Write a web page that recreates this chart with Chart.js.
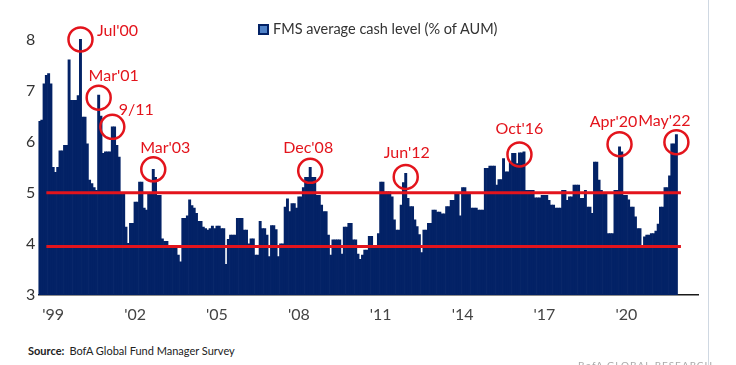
<!DOCTYPE html>
<html>
<head>
<meta charset="utf-8">
<script src="https://cdn.jsdelivr.net/npm/chart.js@4.4.1/dist/chart.umd.min.js"></script>
<style>
  html, body { margin: 0; padding: 0; background: #fff; }
  body { width: 736px; height: 365px; overflow: hidden; position: relative; font-family: Lato, "Open Sans", sans-serif; }
  #wrap { position: absolute; left: 0; top: 0; width: 736px; height: 330px; }
  .legend { position: absolute; left: 258px; top: 20px; font-size: 14.5px; color: #333; white-space: nowrap; line-height: 18px; }
  .legend .box { display: inline-block; width: 7px; height: 7px; border: 2px solid #032266; background: #4f82c8; margin-right: 4px; vertical-align: -1px; }
  .source { position: absolute; left: 28px; top: 344px; font-size: 11px; color: #222; white-space: nowrap; }
  .source b { margin-right: 5px; }
  .edge-right { position: absolute; left: 708px; top: 0; width: 1px; height: 365px; background: #cfd8e2; }
  .footer-mark { position: absolute; left: 578px; top: 359px; font-size: 10px; color: #aaa; letter-spacing: 1px; white-space: nowrap; }
</style>
</head>
<body>
<div id="wrap"><canvas id="cashChart"></canvas></div>
<div class="legend" id="legend"></div>
<div class="source"><b>Source:</b>BofA Global Fund Manager Survey</div>
<div class="edge-right"></div>
<div class="footer-mark">BofA GLOBAL RESEARCH</div>

<script>
// ------------------------------
// DATA (monthly, from Jan'99)
// ------------------------------
const seriesName = 'FMS average cash level (% of AUM)';
const startYear = 1999;
const monthNames = ['Jan','Feb','Mar','Apr','May','Jun','Jul','Aug','Sep','Oct','Nov','Dec'];

// one row per year
const cash1999to2006 = [
  6.4, 6.42, 7.13, 7.3, 7.33, 7.13, 5.5, 5.4, 5.5, 5.82, 5.82, 5.93,
  5.93, 7.6, 6.81, 6.81, 6.81, 6.9, 8.0, 6.48, 6.48, 5.96, 5.25, 5.18,
  5.1, 5.05, 6.91, 6.5, 5.77, 5.8, 5.8, 5.8, 6.29, 6.29, 5.93, 5.7,
  5.0, 4.99, 4.33, 4.01, 4.4, 4.4, 4.82, 4.82, 5.21, 5.21, 4.7, 4.66,
  5.0, 5.0, 5.46, 5.3, 4.95, 4.95, 4.1, 4.05, 4.05, 3.97, 3.97, 3.97,
  3.97, 3.78, 3.65, 4.5, 4.5, 4.55, 4.86, 4.75, 4.7, 4.6, 4.44, 4.44,
  4.33, 4.3, 4.27, 4.3, 4.35, 4.3, 4.35, 4.35, 4.3, 4.3, 3.6, 4.09,
  4.17, 4.17, 4.17, 4.5, 4.5, 4.5, 4.27, 4.27, 4.0, 4.1, 4.1, 3.78
];
const cash2007to2014 = [
  3.78, 4.44, 4.3, 4.3, 4.17, 3.75, 4.36, 4.36, 4.28, 3.75, 4.0, 4.0,
  4.72, 4.88, 4.63, 4.79, 4.79, 4.7, 4.92, 4.92, 5.1, 5.3, 5.3, 5.5,
  5.3, 5.3, 4.95, 4.95, 4.76, 4.63, 4.63, 4.17, 3.78, 4.08, 4.08, 4.08,
  4.08, 3.8, 4.33, 4.33, 4.4, 4.4, 4.08, 4.08, 3.8, 3.7, 3.78, 3.88,
  3.88, 4.15, 4.15, 3.95, 3.95, 4.2, 5.21, 5.21, 5.02, 5.02, 5.02, 4.92,
  4.47, 4.27, 4.27, 4.76, 5.2, 5.38, 4.89, 4.73, 4.73, 4.47, 4.34, 4.18,
  3.83, 4.27, 4.27, 4.4, 4.4, 4.66, 4.66, 4.62, 4.62, 4.59, 4.59, 4.73,
  4.73, 4.85, 4.85, 4.98, 4.98, 4.55, 5.1, 5.1, 5.0, 5.0, 4.7, 4.7
];
const cash2015to2022 = [
  4.7, 4.66, 4.66, 4.66, 5.48, 5.48, 5.52, 5.52, 5.52, 5.15, 5.26, 5.26,
  5.67, 5.41, 5.41, 5.6, 5.77, 5.77, 5.57, 5.78, 5.78, 5.8, 5.05, 5.05,
  5.05, 5.05, 4.9, 4.9, 4.9, 4.95, 4.95, 4.95, 4.85, 4.76, 4.76, 4.7,
  4.7, 4.7, 5.05, 5.05, 4.85, 4.92, 4.92, 5.15, 5.15, 5.15, 4.89, 4.89,
  5.05, 4.72, 4.72, 4.6, 5.6, 5.6, 5.25, 5.05, 4.98, 4.98, 4.2, 4.2,
  4.2, 5.05, 5.05, 5.9, 5.8, 4.95, 4.95, 4.86, 4.72, 4.72, 4.53, 4.3,
  4.3, 3.95, 4.14, 4.17, 4.17, 4.2, 4.2, 4.25, 4.39, 4.72, 4.72, 5.1,
  5.1, 5.33, 5.96, 5.96, 6.14
];

// circled peaks: text, month where the circle sits, circle level
const peakNames  = ["Jul'00", "Mar'01", "9/11",   "Mar'03", "Dec'08", "Jun'12", "Oct'16", "Apr'20", "May'22"];
const peakMonths = ["Jul'00", "Mar'01", "Sep'01", "Mar'03", "Dec'08", "Jun'12", "Aug'16", "Apr'20", "May'22"];
const peakLevels = [8.0, 6.86, 6.29, 5.46, 5.43, 5.31, 5.75, 5.95, 5.99];

// red reference lines
const refLevels = [5.0, 3.95];
const refFrom = "Apr'99", refTo = "Jul'22";

const tickYears = ["'99", "'02", "'05", "'08", "'11", "'14", "'17", "'20"];
const axisEndMonths = 290; // axis runs a little past the last survey

// ------------------------------
// BUILD
// ------------------------------
const cashLevels = cash1999to2006.concat(cash2007to2014, cash2015to2022);

const months = [];
for (let i = 0; i < axisEndMonths; i++) {
  const y = startYear + Math.floor(i / 12);
  months.push(monthNames[i % 12] + "'" + String(y).slice(2));
}

const RED = '#e3141c';
const NAVY = '#032266';
const FONT = 'Lato, "Open Sans", sans-serif';

// legend as plain text above the plot
document.getElementById('legend').innerHTML = '<span class="box"></span>' + seriesName;

// label offsets from circle centre (px)
const labelShift = [[37, -9], [15, -22], [24, -17], [12, -21], [-2, -23], [1, -24], [0, -26], [-6, -22], [-12, -21]];

const peakLabelPlugin = {
  id: 'peakLabels',
  afterDatasetsDraw(chart) {
    const meta = chart.getDatasetMeta(3);
    const ctx = chart.ctx;
    ctx.save();
    ctx.fillStyle = RED;
    ctx.font = '16px ' + FONT;
    ctx.textAlign = 'center';
    ctx.textBaseline = 'middle';
    meta.data.forEach((pt, i) => {
      ctx.fillText(peakNames[i], pt.x + labelShift[i][0], pt.y + labelShift[i][1]);
    });
    ctx.restore();
  }
};

const ctx = document.getElementById('cashChart').getContext('2d');
new Chart(ctx, {
  type: 'bar',
  data: {
    labels: months,
    datasets: [
      {
        label: seriesName,
        data: cashLevels,
        backgroundColor: NAVY,
        borderWidth: 0,
        barPercentage: 1,
        categoryPercentage: 1,
        order: 3
      },
      {
        type: 'line',
        label: 'upper',
        data: [{ x: refFrom, y: refLevels[0] }, { x: refTo, y: refLevels[0] }],
        borderColor: RED,
        borderWidth: 3,
        pointRadius: 0,
        order: 2
      },
      {
        type: 'line',
        label: 'lower',
        data: [{ x: refFrom, y: refLevels[1] }, { x: refTo, y: refLevels[1] }],
        borderColor: RED,
        borderWidth: 3,
        pointRadius: 0,
        order: 2
      },
      {
        type: 'line',
        label: 'peaks',
        data: peakMonths.map((m, i) => ({ x: m, y: peakLevels[i] })),
        showLine: false,
        clip: false,
        pointRadius: 12,
        pointBorderWidth: 2.5,
        pointBorderColor: RED,
        pointBackgroundColor: 'rgba(0,0,0,0)',
        order: 1
      }
    ]
  },
  options: {
    responsive: true,
    maintainAspectRatio: false,
    animation: false,
    layout: { padding: { left: 0, right: 38, top: 19, bottom: 5 } },
    scales: {
      x: {
        grid: { display: false, drawTicks: false },
        border: { display: true, color: '#1a1a1a', width: 1.5 },
        ticks: {
          autoSkip: false,
          maxRotation: 0,
          padding: 10,
          color: '#444',
          font: { family: FONT, size: 16 },
          callback: function (val) {
            const lab = this.getLabelForValue(val);
            const yr = lab.slice(3);
            return lab.startsWith('Jul') && tickYears.includes(yr) ? yr : '';
          }
        },
        afterFit: (scale) => { scale.height = 30; }
      },
      y: {
        min: 3,
        max: 8.4,
        grid: { display: false, drawTicks: false },
        border: { display: false },
        ticks: {
          stepSize: 1,
          padding: 3,
          color: '#333',
          font: { family: FONT, size: 16 }
        },
        afterBuildTicks: (scale) => {
          scale.ticks = scale.ticks.filter(t => Number.isInteger(t.value));
        },
        afterFit: (scale) => { scale.width = 38.4; }
      }
    },
    plugins: {
      tooltip: { enabled: false },
      legend: { display: false }
    }
  },
  plugins: [peakLabelPlugin]
});
</script>
</body>
</html>
